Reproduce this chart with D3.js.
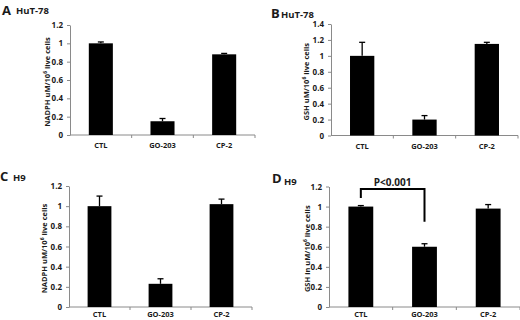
<!DOCTYPE html>
<html>
<head>
<meta charset="utf-8">
<script src="https://cdn.jsdelivr.net/npm/d3@7"></script>
<style>
  html, body { margin: 0; padding: 0; background: #fff; }
  svg { display: block; }
  text { font-family: "Open Sans", "Liberation Sans", sans-serif; font-weight: 700; fill: #1a1a1a; }
</style>
</head>
<body>
<svg id="chart" width="520" height="320"></svg>
<script>
// ---- data ----
const categories = ["CTL", "GO-203", "CP-2"];

const valuesA = [1.0, 0.15, 0.88];
const errorsA = [0.015, 0.03, 0.01];

const valuesB = [1.0, 0.2, 1.15];
const errorsB = [0.17, 0.05, 0.02];

const valuesC = [1.0, 0.23, 1.02];
const errorsC = [0.1, 0.05, 0.05];

const valuesD = [1.0, 0.6, 0.98];
const errorsD = [0.01, 0.03, 0.04];

const ticksA = [0, 0.2, 0.4, 0.6, 0.8, 1, 1.2];
const ticksB = [0, 0.2, 0.4, 0.6, 0.8, 1, 1.2, 1.4];
const ticksC = [0, 0.2, 0.4, 0.6, 0.8, 1, 1.2];
const ticksD = [0, 0.2, 0.4, 0.6, 0.8, 1, 1.2];

const panelLetters = ["A", "B", "C", "D"];
const panelTitles = ["HuT-78", "HuT-78", "H9", "H9"];
const yLabelsMain = ["NADPH uM/10", "GSH uM/10", "NADPH uM/10", "GSH in uM/10"];
const yLabelSup = "6";
const yLabelTail = " live cells";
const sigLabel = "P<0.001";

// ---- layout ----
const svg = d3.select("#chart");

const panels = [
  { values: valuesA, errors: errorsA, ticks: ticksA, ymax: 1.2, x0: 70, x1: 255, yTop: 25, yBot: 135, labX: 50, xlabDy: 13, letter: [2, 15], title: [16, 14] },
  { values: valuesB, errors: errorsB, ticks: ticksB, ymax: 1.4, x0: 331, x1: 518, yTop: 24, yBot: 135.5, labX: 309, xlabDy: 13, letter: [271, 18], title: [281, 17.5] },
  { values: valuesC, errors: errorsC, ticks: ticksC, ymax: 1.2, x0: 69, x1: 252, yTop: 186, yBot: 307, labX: 47, xlabDy: 10, letter: [0, 181], title: [13, 181] },
  { values: valuesD, errors: errorsD, ticks: ticksD, ymax: 1.2, x0: 329, x1: 520, yTop: 186.5, yBot: 307, labX: 310, xlabDy: 10, letter: [272, 183], title: [284, 185] }
];

panels.forEach((p, i) => {
  const g = svg.append("g");
  const x = d3.scaleBand().domain(categories).range([p.x0, p.x1]).padding(0);
  const y = d3.scaleLinear().domain([0, p.ymax]).range([p.yBot, p.yTop]);
  const barW = x.bandwidth() * 0.39;

  // y axis
  const yAxis = d3.axisLeft(y).tickValues(p.ticks).tickSize(3).tickSizeOuter(0)
    .tickFormat(d => d3.format("")(+d.toFixed(1)));
  const ya = g.append("g").attr("transform", `translate(${p.x0},0)`).call(yAxis);
  ya.select(".domain").attr("stroke", "#8a8a8a").attr("stroke-width", 1);
  ya.selectAll(".tick line").attr("stroke", "#8a8a8a");
  ya.selectAll(".tick text").attr("font-size", 8).attr("x", -7).attr("fill", "#1a1a1a")
    .attr("font-family", "'Open Sans', sans-serif").attr("font-weight", 700);

  // x axis line
  g.append("line").attr("x1", p.x0).attr("x2", p.x1).attr("y1", p.yBot).attr("y2", p.yBot)
    .attr("stroke", "#8a8a8a").attr("stroke-width", 1);
  // tick marks at band boundaries
  const bounds = categories.slice(1).map(c => x(c)).concat([p.x1]);
  g.selectAll(".xt").data(bounds).enter().append("line")
    .attr("x1", d => d).attr("x2", d => d).attr("y1", p.yBot).attr("y2", p.yBot + 3)
    .attr("stroke", "#8a8a8a");
  // x labels
  g.selectAll(".xl").data(categories).enter().append("text")
    .attr("x", d => x(d) + x.bandwidth() / 2).attr("y", p.yBot + p.xlabDy)
    .attr("text-anchor", "middle").attr("font-size", 7.5).text(d => d);

  // bars
  g.selectAll(".bar").data(p.values).enter().append("rect")
    .attr("x", (d, j) => x(categories[j]) + x.bandwidth() / 2 - barW / 2)
    .attr("width", barW)
    .attr("y", d => y(d)).attr("height", d => y(0) - y(d))
    .attr("fill", "#000");

  // error bars (upper only)
  p.values.forEach((v, j) => {
    const cx = x(categories[j]) + x.bandwidth() / 2;
    const top = y(v + p.errors[j]);
    g.append("line").attr("x1", cx).attr("x2", cx).attr("y1", y(v)).attr("y2", top)
      .attr("stroke", "#000").attr("stroke-width", 1.3);
    g.append("line").attr("x1", cx - 3).attr("x2", cx + 3).attr("y1", top).attr("y2", top)
      .attr("stroke", "#000").attr("stroke-width", 1.3);
  });

  // y label (rotated)
  const cy = (p.yTop + p.yBot) / 2 + 2;
  const yl = g.append("text").attr("transform", `translate(${p.labX},${cy}) rotate(-90)`)
    .attr("text-anchor", "middle").attr("font-size", 7.5);
  yl.append("tspan").text(yLabelsMain[i]);
  yl.append("tspan").attr("font-size", 5).attr("dy", -3).text(yLabelSup);
  yl.append("tspan").attr("dy", 3).text(yLabelTail);

  // panel letter + title
  g.append("text").attr("x", p.letter[0]).attr("y", p.letter[1]).attr("font-size", 13)
    .attr("font-family", "'Liberation Sans', Arial, sans-serif").text(panelLetters[i]);
  g.append("text").attr("x", p.title[0]).attr("y", p.title[1]).attr("font-size", 9.5)
    .attr("font-family", "'Liberation Sans', Arial, sans-serif").text(panelTitles[i]);

  // significance bracket on panel D
  if (i === 3) {
    const xa = x(categories[0]) + x.bandwidth() / 2;
    const xb = x(categories[1]) + x.bandwidth() / 2;
    const yt = y(1.175), yl1 = y(1.085), yl2 = y(0.85);
    g.append("path").attr("d", `M${xa},${yl1}V${yt}H${xb}V${yl2}`)
      .attr("fill", "none").attr("stroke", "#000").attr("stroke-width", 2);
    g.append("text").attr("x", (xa + xb) / 2).attr("y", yt - 3).attr("text-anchor", "middle")
      .attr("font-size", 10).text(sigLabel);
  }
});
</script>
</body>
</html>
